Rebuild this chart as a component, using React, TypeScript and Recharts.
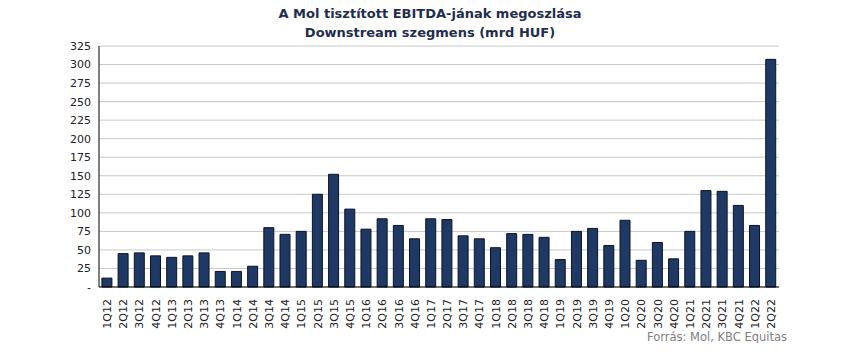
import { BarChart, Bar, XAxis, YAxis, CartesianGrid } from "recharts";

const quarters = [
  "1Q12", "2Q12", "3Q12", "4Q12",
  "1Q13", "2Q13", "3Q13", "4Q13",
  "1Q14", "2Q14", "3Q14", "4Q14",
  "1Q15", "2Q15", "3Q15", "4Q15",
  "1Q16", "2Q16", "3Q16", "4Q16",
  "1Q17", "2Q17", "3Q17", "4Q17",
  "1Q18", "2Q18", "3Q18", "4Q18",
  "1Q19", "2Q19", "3Q19", "4Q19",
  "1Q20", "2Q20", "3Q20", "4Q20",
  "1Q21", "2Q21", "3Q21", "4Q21",
  "1Q22", "2Q22",
];

// tisztított EBITDA, Downstream (mrd HUF)
const ebitda = [
  12, 45, 46, 42,
  40, 42, 46, 21,
  21, 28, 80, 71,
  75, 125, 152, 105,
  78, 92, 83, 65,
  92, 91, 69, 65,
  53, 72, 71, 67,
  37, 75, 79, 56,
  90, 36, 60, 38,
  75, 130, 129, 110,
  83, 307,
];

const yTicks = [0, 25, 50, 75, 100, 125, 150, 175, 200, 225, 250, 275, 300, 325];

const data = quarters.map((q, i) => ({ q, value: ebitda[i] }));

const NAVY = "#1f3864";
const FONT = "'DejaVu Sans', Verdana, sans-serif";

const XTick = ({ x, y, payload }: any) => (
  <text
    x={x}
    y={y}
    transform={`rotate(-90, ${x}, ${y})`}
    dx={-4}
    dy={4}
    textAnchor="end"
    fontSize={11}
    fontFamily={FONT}
    fill="#222"
  >
    {payload.value}
  </text>
);

export default function App() {
  return (
    <div style={{ position: "relative", width: 850, height: 351, margin: -8, background: "#fff" }}>
      <div
        style={{
          position: "absolute",
          left: 0,
          top: 4,
          width: 860,
          textAlign: "center",
          fontFamily: FONT,
          fontWeight: "bold",
          fontSize: 13,
          lineHeight: "19px",
          color: "#1f2d4f",
        }}
      >
        A Mol tisztított EBITDA-jának megoszlása
        <br />
        Downstream szegmens (mrd HUF)
      </div>
      <BarChart
        width={850}
        height={351}
        data={data}
        margin={{ top: 46, right: 71, bottom: 0, left: 0 }}
        barCategoryGap="18%"
      >
        <CartesianGrid vertical={false} stroke="#c8c8c8" />
        <XAxis
          dataKey="q"
          interval={0}
          tick={<XTick />}
          tickLine={false}
          axisLine={{ stroke: "#000" }}
          height={64}
        />
        <YAxis
          domain={[0, 325]}
          ticks={yTicks}
          interval={0}
          width={99}
          tickLine={false}
          axisLine={{ stroke: "#000" }}
          tickFormatter={(v: number) => (v === 0 ? "-" : String(v))}
          tick={{ fontSize: 11, fontFamily: FONT, fill: "#222" }}
        />
        <Bar dataKey="value" fill={NAVY} stroke="#0a1428" strokeWidth={1} isAnimationActive={false} />
      </BarChart>
      <div
        style={{
          position: "absolute",
          left: 647,
          top: 330,
          fontFamily: FONT,
          fontSize: 11.5,
          lineHeight: "14px",
          color: "#808080",
          whiteSpace: "nowrap",
        }}
      >
        Forrás: Mol, KBC Equitas
      </div>
    </div>
  );
}
